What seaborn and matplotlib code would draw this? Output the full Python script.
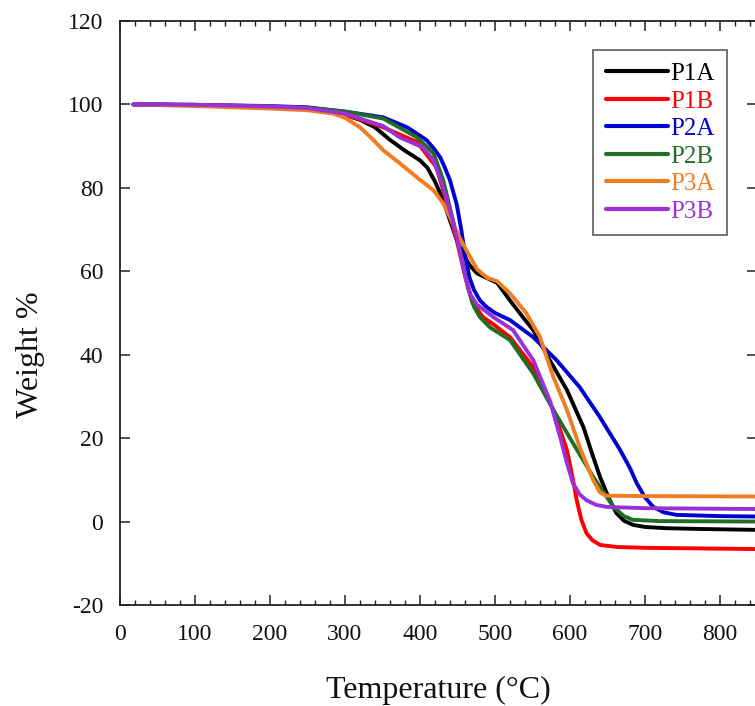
import matplotlib
matplotlib.use("Agg")
import matplotlib.pyplot as plt
from matplotlib.ticker import MultipleLocator
import numpy as np
import pandas as pd
import seaborn as sns

# Thermogravimetric curves: temperature (°C) vs remaining weight (%)
samples = ["P1A", "P1B", "P2A", "P2B", "P3A", "P3B"]
colors = ["#000000", "#ff0000", "#0000d0", "#1f6e23", "#f07d22", "#9a30d8"]

t_p1a = [18, 100, 200, 260, 300, 320, 340, 360, 380, 400, 410, 420, 430, 440, 450, 457,
         466, 476, 490, 503, 520, 535, 551, 573, 596, 618, 630, 640, 652, 662, 672, 684,
         700, 729, 780, 850]
w_p1a = [100, 99.8, 99.3, 98.8, 97.5, 96.3, 94.5, 91.5, 88.9, 86.6, 84.8, 81.5, 77.5,
         72.2, 67.0, 64.3, 61.5, 59.5, 58.3, 57.2, 53.0, 49.5, 45.9, 38.7, 31.5, 22.6,
         16.0, 10.7, 5.5, 2.0, 0.2, -0.8, -1.3, -1.6, -1.8, -2.0]

t_p1b = [18, 100, 200, 250, 300, 351, 396, 422, 436, 449, 456, 462, 470, 484, 500, 520,
         551, 578, 596, 603, 609, 615, 622, 630, 640, 662, 700, 850]
w_p1b = [100, 99.8, 99.4, 99.0, 97.6, 94.5, 91.0, 84.9, 76.3, 67.4, 62.0, 57.5, 52.5,
         49.0, 47.0, 44.2, 37.0, 26.7, 17.1, 11.0, 5.1, 0.5, -2.8, -4.5, -5.6, -6.1,
         -6.3, -6.6]

t_p2a = [18, 100, 200, 250, 307, 351, 383, 400, 409, 418, 427, 434, 440, 449, 455, 460,
         466, 472, 480, 489, 500, 520, 551, 582, 613, 640, 667, 680, 689, 700, 711, 725,
         742, 800, 850]
w_p2a = [100, 99.9, 99.6, 99.3, 98.1, 96.9, 94.5, 92.5, 91.4, 89.5, 87.3, 84.5, 81.8,
         76.0, 70.0, 64.0, 58.5, 55.5, 53.0, 51.4, 50.0, 48.3, 44.2, 38.7, 32.2, 25.0,
         17.1, 12.8, 9.2, 5.8, 3.5, 2.2, 1.6, 1.3, 1.2]

t_p2b = [18, 100, 200, 250, 300, 351, 396, 418, 431, 444, 452, 457, 464, 472, 480, 493,
         520, 551, 578, 604, 631, 658, 672, 684, 720, 850]
w_p2b = [100, 99.9, 99.5, 99.2, 98.3, 96.6, 92.1, 88.3, 81.8, 72.2, 66.0, 62.0, 56.0,
         51.5, 49.0, 46.6, 43.5, 35.5, 26.7, 18.8, 10.7, 3.5, 1.3, 0.4, 0.1, 0.0]

t_p3a = [18, 100, 200, 250, 284, 300, 320, 335, 351, 373, 396, 418, 431, 444, 453, 462,
         476, 490, 503, 520, 542, 560, 578, 596, 613, 631, 640, 648, 700, 850]
w_p3a = [100, 99.6, 99.0, 98.6, 97.8, 96.8, 94.5, 92.0, 89.0, 85.9, 82.5, 79.4, 76.3,
         71.5, 68.0, 65.0, 60.5, 58.4, 57.6, 54.7, 49.9, 44.2, 34.6, 26.7, 17.8, 9.9,
         7.0, 6.2, 6.1, 6.0]

t_p3b = [18, 100, 200, 250, 300, 351, 373, 404, 418, 431, 444, 453, 460, 467, 476, 498,
         524, 551, 573, 587, 596, 604, 613, 622, 635, 649, 700, 850]
w_p3b = [100, 99.9, 99.5, 99.1, 97.8, 94.8, 92.1, 89.7, 86.6, 80.1, 72.0, 65.0, 59.0,
         54.5, 52.0, 49.0, 45.9, 38.7, 29.1, 20.2, 14.0, 9.2, 6.5, 5.1, 4.0, 3.5, 3.2,
         3.0]

temps = [t_p1a, t_p1b, t_p2a, t_p2b, t_p3a, t_p3b]
weights = [w_p1a, w_p1b, w_p2a, w_p2b, w_p3a, w_p3b]

df = pd.concat(
    [pd.DataFrame({"Temperature": t, "Weight": w, "Sample": s})
     for s, t, w in zip(samples, temps, weights)],
    ignore_index=True,
)

sns.set_theme(style="white")
plt.rcParams["font.family"] = ["Liberation Serif", "DejaVu Serif"]
plt.rcParams["axes.unicode_minus"] = False

fig = plt.figure(figsize=(7.55, 7.06), dpi=100)
ax = fig.add_axes([0.1589, 0.1431, 0.8444, 0.8272])

sns.lineplot(data=df, x="Temperature", y="Weight", hue="Sample",
             palette=dict(zip(samples, colors)), hue_order=samples,
             sort=False, estimator=None, linewidth=2.8, ax=ax)

ax.set_xlim(0, 850)
ax.set_ylim(-20, 120)
ax.xaxis.set_major_locator(MultipleLocator(100))
ax.xaxis.set_minor_locator(MultipleLocator(20))
ax.yaxis.set_major_locator(MultipleLocator(20))
ax.set_xticks(np.arange(0, 801, 100))

for side in ["left", "right", "top", "bottom"]:
    ax.spines[side].set_color("#222222")
    ax.spines[side].set_linewidth(1.3)

ax.tick_params(axis="x", which="major", direction="in", length=7, width=1.1,
               top=True, bottom=True, labelsize=17, pad=14, colors="#222222",
               labelcolor="#111111")
ax.tick_params(axis="x", which="minor", direction="in", length=3.5, width=1.0,
               top=True, bottom=True, colors="#222222")
ax.tick_params(axis="y", which="major", direction="in", length=7, width=1.1,
               left=True, right=True, labelsize=17, pad=12, colors="#222222",
               labelcolor="#111111")

ax.set_xlabel("Temperature (°C)", fontsize=23, labelpad=22, color="#111111")
ax.set_ylabel("Weight %", fontsize=23, color="#111111")
ax.yaxis.set_label_coords(-0.118, 0.428)

leg = ax.legend(loc="upper right", bbox_to_anchor=(0.952, 0.950), fontsize=18,
                labelcolor="linecolor", frameon=True, fancybox=False,
                borderaxespad=0.0, handlelength=2.5, handletextpad=0.08,
                labelspacing=0.2, borderpad=0.5, title=None)
leg.get_frame().set_edgecolor("#333333")
leg.get_frame().set_linewidth(1.2)
for line in leg.get_lines():
    line.set_linewidth(3.0)

fig.savefig("out.png", dpi=100)
